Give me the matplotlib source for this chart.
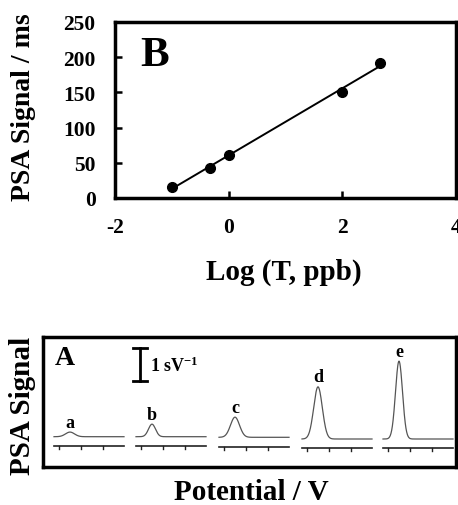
import numpy as np
import matplotlib
matplotlib.use("Agg")
import matplotlib.pyplot as plt

plt.rcParams["font.family"] = ["Liberation Serif", "DejaVu Serif"]
plt.rcParams["font.weight"] = "bold"
plt.rcParams["mathtext.fontset"] = "stix"
plt.rcParams["axes.unicode_minus"] = False

# --- panel B: calibration plot ---
log_conc = [-1.0, -0.33, 0.0, 2.0, 2.67]
signal_ms = [16, 42, 61, 151, 192]
x_ticks = [-2, 0, 2, 4]
y_ticks = [0, 50, 100, 150, 200, 250]

# --- panel A: PSA traces (peak heights in sV^-1) ---
trace_labels = ["a", "b", "c", "d", "e"]
peak_heights = [0.14, 0.38, 0.61, 1.58, 2.36]
peak_sigma = [4.5, 3.5, 4.5, 4.3, 3.5]

W, H = 458, 506
fig = plt.figure(figsize=(W / 100, H / 100), dpi=100)

# top panel
ax1 = fig.add_axes([115 / W, (H - 199) / H, 341 / W, 176 / H])
ax1.plot(log_conc, signal_ms, "o", color="black", ms=7, zorder=3)
k, b = np.polyfit(log_conc, signal_ms, 1)
xf = np.array([min(log_conc), max(log_conc)])
ax1.plot(xf, k * xf + b, color="black", lw=1.4)
ax1.set_xlim(-2, 4)
ax1.set_ylim(0, 250)
ax1.set_xticks(x_ticks)
ax1.set_yticks(y_ticks)
ax1.tick_params(direction="in", length=5, width=1.8, labelsize=15.5, pad=14)
for lbl in ax1.get_xticklabels() + ax1.get_yticklabels():
    lbl.set_fontweight("bold")
for sp in ax1.spines.values():
    sp.set_linewidth(2.5)
ax1.text(0.117, 0.81, "B", transform=ax1.transAxes, fontsize=31,
         fontweight="bold", ha="center", va="center")
fig.text(24 / W, 1 - 107 / H, "PSA Signal / ms", rotation=90, fontsize=20,
         fontweight="bold", ha="center", va="center")
fig.text(284 / W, 1 - 272 / H, "Log (T, ppb)", fontsize=21,
         fontweight="bold", ha="center", va="center")

# bottom panel (axes units ~ pixels)
ax2 = fig.add_axes([43 / W, (H - 468) / H, 413 / W, 130 / H])
ax2.set_xlim(0, 413)
ax2.set_ylim(0, 130)
ax2.set_xticks([])
ax2.set_yticks([])
for sp in ax2.spines.values():
    sp.set_linewidth(2.5)

px_per_unit = 33
seg_start = [11, 93, 176, 259, 340]
base_y = [30.3, 30.3, 29.7, 28.0, 28.0]
axis_y = [21.3, 21.3, 20.3, 19.3, 19.3]
seg_len = 70
for i, lab in enumerate(trace_labels):
    x0 = seg_start[i]
    xs = np.linspace(x0, x0 + seg_len, 300)
    pk = x0 + 16
    ys = base_y[i] + peak_heights[i] * px_per_unit * np.exp(-0.5 * ((xs - pk) / peak_sigma[i]) ** 2)
    ax2.plot(xs, ys, color="#555555", lw=0.9)
    ax2.plot([x0, x0 + seg_len], [axis_y[i]] * 2, color="#222222", lw=1.2)
    for t in (5, 27, 49):
        ax2.plot([x0 + t] * 2, [axis_y[i], axis_y[i] - 3], color="#222222", lw=1.0)
    ax2.text(pk, base_y[i] + peak_heights[i] * px_per_unit + 10, lab, fontsize=13,
             fontweight="bold", ha="center", va="center")

# scale bar 1 sV^-1
ax2.plot([97, 97], [86, 86 + px_per_unit], color="black", lw=2)
ax2.plot([90, 104], [86, 86], color="black", lw=2)
ax2.plot([90, 104], [86 + px_per_unit] * 2, color="black", lw=2)
ax2.text(107, 102, r"1 sV$^{\mathregular{-1}}$", fontsize=13, fontweight="bold",
         ha="left", va="center")
ax2.text(21.5, 109.5, "A", fontsize=20, fontweight="bold", ha="center", va="center")

fig.text(22 / W, 1 - 406 / H, "PSA Signal", rotation=90, fontsize=21,
         fontweight="bold", ha="center", va="center")
fig.text(251 / W, 1 - 493 / H, "Potential / V", fontsize=21,
         fontweight="bold", ha="center", va="center")

fig.savefig("out.png", dpi=100)
